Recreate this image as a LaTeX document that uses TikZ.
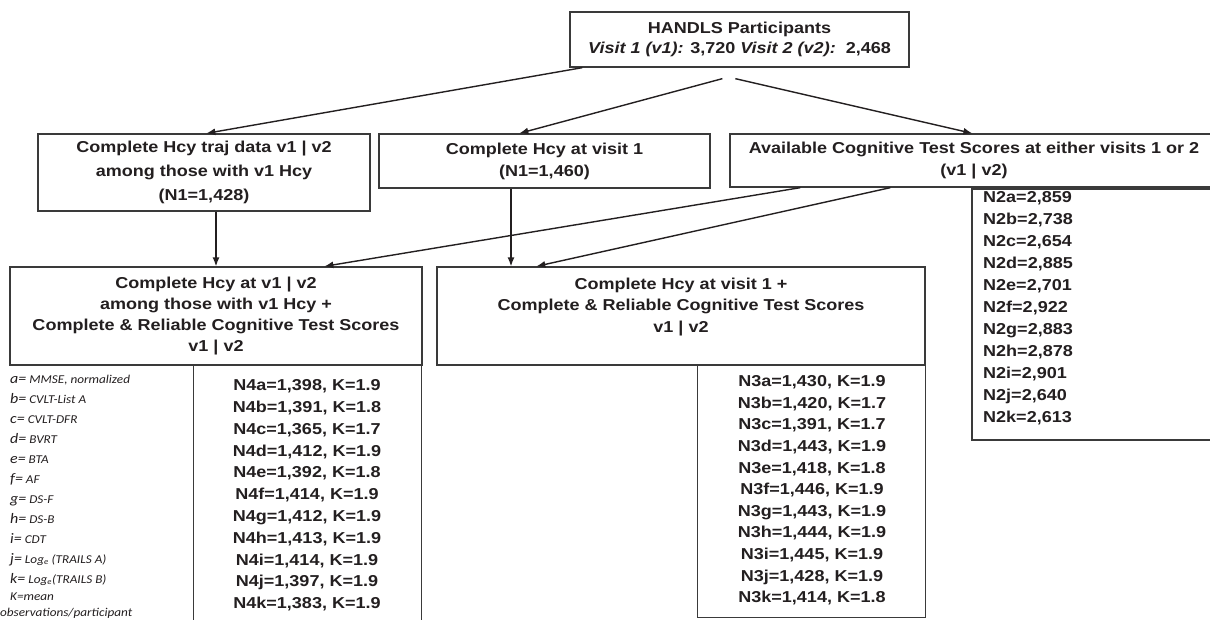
\documentclass[tikz,border=0pt]{standalone}
\usepackage{fontspec}
\setmainfont{Liberation Sans}[FakeStretch=1.14]
\newfontfamily\legfont{Carlito}[FakeStretch=1.1]
\usetikzlibrary{arrows.meta}
\definecolor{ink}{HTML}{231F20}
\definecolor{edge}{HTML}{3A3A3A}
\newcommand\bxf[1]{\fontsize{15.8}{#1}\selectfont\bfseries}
\newcommand\legl[1]{{\fontsize{14.5}{20}\selectfont #1}}
\begin{document}
\begin{tikzpicture}[x=1pt,y=-1pt,
  box/.style={draw=edge, line width=1.3pt, inner sep=0pt, align=center, text=ink},
  lst/.style={inner sep=0pt, text=ink},
  leg/.style={inner sep=0pt, align=left, anchor=north west, text=ink},
  arr/.style={draw=ink, line width=1.4pt, -{Latex[length=9pt,width=7pt]}}]
\useasboundingbox (0,0) rectangle (1210,619);
\fill[white] (0,0) rectangle (1210,619);
\clip (0,0) rectangle (1210,619);

% top
\node[box, minimum width=339pt, minimum height=55pt, font=\bxf{20}] (T) at (739.5,39.5)
  {HANDLS Participants\\ \textit{Visit 1 (v1):} 3,720 \textit{Visit 2 (v2):}\ \ 2,468};

% second row
\node[box, minimum width=332pt, minimum height=77pt, font=\bxf{24}] (A) at (204,172.5)
  {Complete Hcy traj data v1 | v2\\among those with v1 Hcy\\(N1=1,428)};
\node[box, minimum width=331pt, minimum height=54pt, font=\bxf{22}] (B) at (544.5,161)
  {Complete Hcy at visit 1\\(N1=1,460)};
\node[box, minimum width=488pt, minimum height=53pt, font=\bxf{22}] (C) at (974,160.5)
  {Available Cognitive Test Scores at either visits 1 or 2\\(v1 | v2)};

% N2 list
\node[box, minimum width=246pt, minimum height=251pt] (N2) at (1095,314.5) {};
\node[lst, anchor=north west, align=left, font=\bxf{22}] (N2l) at (983,191.6)
  {N2a=2,859\\N2b=2,738\\N2c=2,654\\N2d=2,885\\N2e=2,701\\N2f=2,922\\N2g=2,883\\N2h=2,878\\N2i=2,901\\N2j=2,640\\N2k=2,613};

% third row
\node[box, minimum width=412pt, minimum height=98pt, font=\bxf{21}] (D) at (216,316)
  {Complete Hcy at v1 | v2\\among those with v1 Hcy +\\Complete \& Reliable Cognitive Test Scores\\v1 | v2};
\node[box, minimum width=488pt, minimum height=98pt, font=\bxf{21.5}] (E) at (681,316)
  {Complete Hcy at visit 1 +\\Complete \& Reliable Cognitive Test Scores\\v1 | v2\\ \mbox{}};

% N4 list
\node[box, minimum width=228pt, minimum height=270pt, anchor=north west] (N4) at (193,365) {};
\node[lst, anchor=north, align=center, font=\bxf{21.8}] (N4l) at (307,379.4)
  {N4a=1,398, K=1.9\\N4b=1,391, K=1.8\\N4c=1,365, K=1.7\\N4d=1,412, K=1.9\\N4e=1,392, K=1.8\\N4f=1,414, K=1.9\\N4g=1,412, K=1.9\\N4h=1,413, K=1.9\\N4i=1,414, K=1.9\\N4j=1,397, K=1.9\\N4k=1,383, K=1.9};

% N3 list
\node[box, minimum width=228pt, minimum height=252pt, anchor=north west] (N3) at (697,365) {};
\node[lst, anchor=north, align=center, font=\bxf{21.6}] (N3l) at (812,375.4)
  {N3a=1,430, K=1.9\\N3b=1,420, K=1.7\\N3c=1,391, K=1.7\\N3d=1,443, K=1.9\\N3e=1,418, K=1.8\\N3f=1,446, K=1.9\\N3g=1,443, K=1.9\\N3h=1,444, K=1.9\\N3i=1,445, K=1.9\\N3j=1,428, K=1.9\\N3k=1,414, K=1.8};

% legend
\node[leg, font=\legfont\itshape\fontsize{12}{20}\selectfont] (leg) at (10,374.5)
  {\legl{a=} MMSE, normalized\\
   \legl{b=} CVLT-List A\\
   \legl{c=} CVLT-DFR\\
   \legl{d=} BVRT\\
   \legl{e=} BTA\\
   \legl{f=} AF\\
   \legl{g=} DS-F\\
   \legl{h=} DS-B\\
   \legl{i=} CDT\\
   \legl{j=} Log\textsubscript{e} (TRAILS A)\\
   \legl{k=} Log\textsubscript{e}(TRAILS B)};
\node[leg, font=\legfont\itshape\fontsize{12}{16}\selectfont] (kdef) at (0,593)
  {\hspace*{10pt}K=mean\\observations/participant};

% connectors
\draw[arr] ([xshift=13pt]T.south west) -- ([xshift=169pt]A.north west);
\draw[arr] ([xshift=153pt,yshift=-11pt]T.south west) -- ([xshift=141pt]B.north west);
\draw[arr] ([xshift=166pt,yshift=-11pt]T.south west) -- ([xshift=243pt]C.north west);
\draw[arr] (A.south -| D.north) -- (D.north);
\draw[arr] ([xshift=-33.5pt]B.south) -- ([xshift=-33.5pt]B.south |- E.north);
\draw[arr] ([xshift=71pt]C.south west) -- ([xshift=315pt]D.north west);
\draw[arr] ([xshift=161pt]C.south west) -- ([xshift=100pt]E.north west);
\end{tikzpicture}
\end{document}
